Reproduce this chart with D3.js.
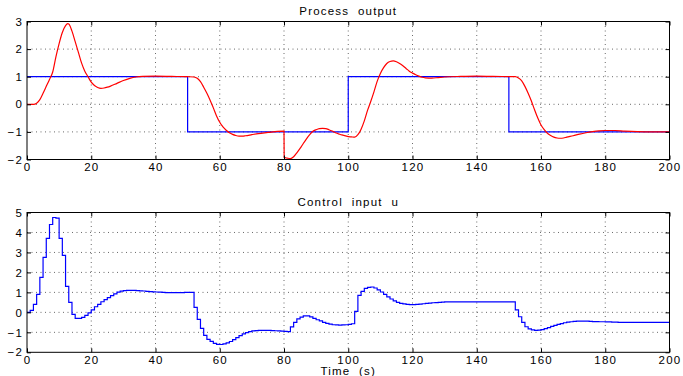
<!DOCTYPE html>
<html>
<head>
<meta charset="utf-8">
<script src="https://cdn.jsdelivr.net/npm/d3@7"></script>
<style>
  body { margin: 0; background: #fff; }
  text { font-family: "Liberation Sans", Arial, sans-serif; font-size: 11.5px; letter-spacing: 1.2px; fill: #000; }
</style>
</head>
<body>
<div id="chart"></div>
<script>
// setpoint (step changes)
const refT = [0, 50, 100, 150, 200];
const refY = [1, -1, 1, -1, -1];

// process output (red)
const outT = [0, 2, 3, 4, 5, 6, 7, 8, 9, 10,
    11, 12, 12.7, 13, 14, 15, 16, 17, 18, 19,
    20, 21, 22, 23, 24, 25, 26, 28, 30, 32,
    34, 36, 40, 45, 50, 52, 53, 54, 55, 56,
    57, 58, 59, 60, 61, 62, 63, 64, 65, 66,
    67, 68, 70, 72, 75, 78, 80, 80.05, 81, 82,
    83, 84, 85, 86, 87, 88, 89, 90, 91, 92,
    93, 94, 95, 96, 97, 98, 100, 101, 102, 103,
    104, 105, 106, 107, 108, 109, 110, 111, 112, 113,
    114, 115, 116, 117, 118, 119, 120, 121, 122, 123,
    124, 126, 128, 130, 135, 140, 145, 152, 153, 154,
    155, 156, 157, 158, 159, 160, 161, 162, 163, 164,
    165, 166, 167, 168, 170, 172, 174, 176, 178, 180,
    183, 186, 190, 195, 200];
const outY = [0, 0, 0.04, 0.17, 0.4, 0.65, 0.9, 1.17, 1.72, 2.2,
    2.6, 2.85, 2.92, 2.91, 2.65, 2.27, 1.88, 1.49, 1.2, 1.0,
    0.8, 0.68, 0.61, 0.58, 0.59, 0.62, 0.66, 0.76, 0.86, 0.94,
    0.99, 1.01, 1.02, 1.01, 1.0, 0.99, 0.94, 0.82, 0.62, 0.4,
    0.15, -0.13, -0.42, -0.65, -0.82, -0.94, -1.03, -1.09, -1.13, -1.15,
    -1.15, -1.14, -1.1, -1.06, -1.02, -0.98, -0.97, -1.92, -1.95, -1.97,
    -1.9, -1.76, -1.6, -1.42, -1.25, -1.1, -0.98, -0.92, -0.88, -0.87,
    -0.88, -0.92, -0.97, -1.03, -1.07, -1.11, -1.17, -1.18, -1.19, -1.1,
    -0.9, -0.6, -0.22, 0.1, 0.45, 0.83, 1.12, 1.33, 1.48, 1.55,
    1.57, 1.54, 1.48, 1.4, 1.3, 1.2, 1.13, 1.07, 1.02, 0.98,
    0.96, 0.95, 0.97, 0.99, 1.01, 1.02, 1.01, 1.0, 0.95, 0.85,
    0.65, 0.4, 0.12, -0.2, -0.5, -0.75, -0.92, -1.05, -1.13, -1.19,
    -1.22, -1.23, -1.22, -1.19, -1.14, -1.08, -1.03, -0.99, -0.96, -0.95,
    -0.95, -0.97, -0.99, -1.0, -1.0];

// control input u, one sample per second (zero-order hold)
const uY = [0, 0.1, 0.4, 0.9, 1.75, 2.75, 3.7, 4.4, 4.75, 4.72,
    3.7, 2.85, 1.3, 0.5, -0.1, -0.3, -0.3, -0.25, -0.15, -0.03,
    0.12, 0.28, 0.4, 0.53, 0.64, 0.74, 0.84, 0.93, 1.01, 1.06,
    1.09, 1.1, 1.1, 1.1, 1.09, 1.08, 1.07, 1.05, 1.04, 1.03,
    1.02, 1.01, 1.0, 0.99, 0.99, 0.99, 0.99, 0.99, 0.99, 1.0,
    1.0, 1.0, 0.25, -0.35, -0.8, -1.15, -1.35, -1.45, -1.55, -1.6,
    -1.61, -1.58, -1.53, -1.46, -1.37, -1.27, -1.17, -1.08, -1.01, -0.96,
    -0.93, -0.91, -0.9, -0.9, -0.9, -0.9, -0.91, -0.92, -0.93, -0.94,
    -0.95, -0.96, -0.73, -0.5, -0.33, -0.24, -0.18, -0.18, -0.23, -0.3,
    -0.37, -0.43, -0.5, -0.55, -0.59, -0.62, -0.63, -0.64, -0.63, -0.62,
    -0.6, -0.57, 0.05, 0.85, 1.05, 1.2, 1.25, 1.27, 1.22, 1.13,
    1.02, 0.9, 0.78, 0.67, 0.57, 0.5, 0.45, 0.42, 0.4, 0.39,
    0.39, 0.4, 0.41, 0.43, 0.45, 0.46, 0.48, 0.49, 0.5, 0.51,
    0.52, 0.52, 0.52, 0.52, 0.52, 0.52, 0.52, 0.52, 0.52, 0.52,
    0.52, 0.52, 0.52, 0.52, 0.52, 0.52, 0.52, 0.52, 0.52, 0.52,
    0.52, 0.52, 0.12, -0.22, -0.5, -0.72, -0.83, -0.88, -0.9, -0.89,
    -0.86, -0.81, -0.76, -0.7, -0.65, -0.6, -0.56, -0.52, -0.49, -0.47,
    -0.45, -0.44, -0.44, -0.44, -0.44, -0.45, -0.46, -0.46, -0.47, -0.47,
    -0.48, -0.48, -0.49, -0.49, -0.5, -0.5, -0.5, -0.5, -0.5, -0.5,
    -0.5, -0.5, -0.5, -0.5, -0.5, -0.5, -0.5, -0.5, -0.5, -0.5,
    -0.5];
const uT = uY.map(function(d, i) { return i; });

const xTicks = [0, 20, 40, 60, 80, 100, 120, 140, 160, 180, 200];
const yTicksTop = [-2, -1, 0, 1, 2, 3];
const yTicksBottom = [-2, -1, 0, 1, 2, 3, 4, 5];

const width = 683, height = 376;
const left = 27, right = 669.5;
const fmt = d3.format("d");

const svg = d3.select("#chart").append("svg")
        .attr("width", width)
        .attr("height", height);

const x = d3.scaleLinear().domain([0, 200]).range([left, right]);

function panel(id, top, bottom, yDomain, yTicks, title, series, xlabel) {
    const y = d3.scaleLinear().domain(yDomain).range([bottom, top]);
    const g = svg.append("g");

    g.append("clipPath").attr("id", id)
        .append("rect")
        .attr("x", left).attr("y", top)
        .attr("width", right - left).attr("height", bottom - top);

    // dotted grid
    g.selectAll(".gx").data(xTicks.slice(1, -1)).enter().append("line")
        .attr("x1", d => x(d)).attr("x2", d => x(d))
        .attr("y1", top).attr("y2", bottom)
        .attr("stroke", "#444").attr("stroke-width", 0.8)
        .attr("stroke-dasharray", "1,3.5");
    g.selectAll(".gy").data(yTicks.slice(1, -1)).enter().append("line")
        .attr("x1", left).attr("x2", right)
        .attr("y1", d => y(d)).attr("y2", d => y(d))
        .attr("stroke", "#444").attr("stroke-width", 0.8)
        .attr("stroke-dasharray", "1,3.5");

    // data
    const plot = g.append("g").attr("clip-path", "url(#" + id + ")");
    series.forEach(function(s) {
        const line = d3.line()
            .x(function(d, i) { return x(s.t[i]); })
            .y(function(d) { return y(d); })
            .curve(s.curve);
        plot.append("path")
            .attr("d", line(s.y))
            .attr("fill", "none")
            .attr("stroke", s.color)
            .attr("stroke-width", 1.2);
    });

    // box and inward ticks on all sides
    g.append("rect")
        .attr("x", left).attr("y", top)
        .attr("width", right - left).attr("height", bottom - top)
        .attr("fill", "none").attr("stroke", "#000").attr("stroke-width", 1);

    g.append("g").attr("transform", "translate(0," + bottom + ")")
        .call(d3.axisBottom(x).tickValues(xTicks).tickFormat(fmt)
            .tickSizeInner(-4).tickSizeOuter(0).tickPadding(3.5))
        .call(a => a.select(".domain").remove())
        .call(a => a.selectAll("text").attr("font-size", null).attr("font-family", null));
    g.append("g").attr("transform", "translate(0," + top + ")")
        .call(d3.axisTop(x).tickValues(xTicks).tickSizeInner(-4).tickSizeOuter(0).tickFormat(""))
        .call(a => a.select(".domain").remove());
    g.append("g").attr("transform", "translate(" + left + ",0)")
        .call(d3.axisLeft(y).tickValues(yTicks).tickFormat(fmt)
            .tickSizeInner(-4).tickSizeOuter(0).tickPadding(4))
        .call(a => a.select(".domain").remove())
        .call(a => a.selectAll("text").attr("font-size", null).attr("font-family", null));
    g.append("g").attr("transform", "translate(" + right + ",0)")
        .call(d3.axisRight(y).tickValues(yTicks).tickSizeInner(-4).tickSizeOuter(0).tickFormat(""))
        .call(a => a.select(".domain").remove());

    g.append("text")
        .attr("x", (left + right) / 2)
        .attr("y", top - 7)
        .attr("text-anchor", "middle")
        .style("white-space", "pre")
        .text(title);

    if (xlabel) {
        g.append("text")
            .attr("x", (left + right) / 2)
            .attr("y", bottom + 22.5)
            .attr("text-anchor", "middle")
            .style("white-space", "pre")
            .text(xlabel);
    }
}

panel("clipTop", 21.5, 159.5, [-2, 3], yTicksTop, "Process  output", [
    {t: refT, y: refY, color: "#0000ff", curve: d3.curveStepAfter},
    {t: outT, y: outY, color: "#ff0000", curve: d3.curveMonotoneX}
]);

panel("clipBottom", 212.5, 352.3, [-2, 5], yTicksBottom, "Control  input  u", [
    {t: uT, y: uY, color: "#0000ff", curve: d3.curveStepAfter}
], "Time  (s)");
</script>
</body>
</html>
